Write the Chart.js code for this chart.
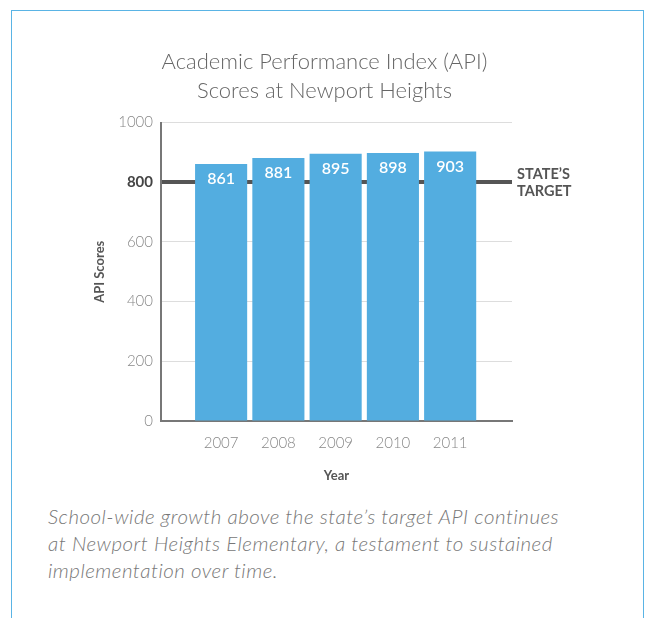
<!DOCTYPE html>
<html>
<head>
<meta charset="utf-8">
<script src="https://cdn.jsdelivr.net/npm/chart.js@4"></script>
<style>
  html, body { margin: 0; padding: 0; background: #fff; width: 649px; height: 618px; overflow: hidden; }
  .frame { position: absolute; left: 11px; top: 10px; width: 633px; height: 700px; border: 1px solid #5ab4e5; box-sizing: border-box; }
  .wrap { position: absolute; left: 0; top: 0; width: 649px; height: 495px; }
  .caption { position: absolute; left: 48px; top: 503px; width: 590px; white-space: nowrap; font-family: Lato, "Open Sans", sans-serif; font-style: italic; font-weight: 300; font-size: 20.5px; letter-spacing: 0.5px; line-height: 27px; color: #777; }
</style>
</head>
<body>
<div class="frame"></div>
<div class="wrap"><canvas id="c"></canvas></div>
<div class="caption">School-wide growth above the state’s target API continues<br>at Newport Heights Elementary, a testament to sustained<br>implementation over time.</div>
<script>
const titleLines = ["Academic Performance Index (API)", "Scores at Newport Heights"];
const years = [2007, 2008, 2009, 2010, 2011];
const scores = [861, 881, 895, 898, 903];
const stateTarget = 800;
const targetLabel = ["STATE’S", "TARGET"];
const yAxisTitle = "API Scores";
const xAxisTitle = "Year";

const barColor = "#53ade0";
const FONT = "Lato, 'Open Sans', sans-serif";

const labelPlugin = {
  id: "labels",
  afterDatasetsDraw(chart) {
    const ctx = chart.ctx;
    const meta = chart.getDatasetMeta(0);
    ctx.save();
    ctx.fillStyle = "#fff";
    ctx.font = "600 16px " + FONT;
    ctx.textAlign = "center";
    ctx.textBaseline = "middle";
    meta.data.forEach((bar, i) => {
      ctx.fillText(String(scores[i]), bar.x, bar.y + 15);
    });
    const yPix = chart.scales.y.getPixelForValue(stateTarget);
    ctx.fillStyle = "#555";
    ctx.font = "bold 14.5px " + FONT;
    ctx.textAlign = "left";
    ctx.fillText(targetLabel[0], chart.chartArea.right + 5, yPix - 8);
    ctx.fillText(targetLabel[1], chart.chartArea.right + 5, yPix + 9);
    ctx.restore();
  }
};

new Chart(document.getElementById("c"), {
  type: "bar",
  data: {
    datasets: [{
      data: years.map((y, i) => ({ x: y, y: scores[i] })),
      backgroundColor: barColor,
      borderWidth: 0,
      categoryPercentage: 1,
      barPercentage: 0.91,
      yAxisID: "y"
    }]
  },
  options: {
    responsive: true,
    maintainAspectRatio: false,
    animation: false,
    devicePixelRatio: 1,
    layout: { padding: 0 },
    plugins: {
      legend: { display: false },
      tooltip: { enabled: false },
      title: {
        display: true,
        text: titleLines,
        color: "#666",
        font: { family: FONT, size: 22, weight: 300, lineHeight: 1.33 },
        padding: { top: 47, bottom: 17 }
      }
    },
    scales: {
      x: {
        type: "linear",
        offset: false,
        min: 2005.95,
        max: 2012.08,
        grid: { display: false, drawTicks: false, offset: false },
        border: { display: true, color: "#777", width: 2 },
        ticks: {
          stepSize: 1,
          autoSkip: false,
          padding: 13,
          color: "#888",
          font: { family: FONT, size: 15, weight: 300 },
          callback: (v) => (years.includes(v) ? String(v) : "")
        },
        title: {
          display: true,
          text: xAxisTitle,
          color: "#555",
          font: { family: FONT, size: 13, weight: "bold" },
          padding: { top: 0, bottom: 11 }
        },
        afterFit: (s) => { s.height = 74; }
      },
      y: {
        position: "left",
        min: 0,
        max: 1000,
        grid: {
          drawTicks: false,
          color: (c) => c.tick && c.tick.value === stateTarget ? "#555" : (c.tick && c.tick.value === 0 ? "rgba(0,0,0,0)" : "#ddd"),
          lineWidth: (c) => c.tick && c.tick.value === stateTarget ? 4 : 1
        },
        border: { display: true, color: "#777", width: 2 },
        ticks: {
          stepSize: 200,
          padding: 8,
          callback: (v) => String(v),
          color: (c) => c.tick && c.tick.value === stateTarget ? "#444" : "#888",
          font: (c) => ({
            family: FONT,
            size: 15,
            weight: c.tick && c.tick.value === stateTarget ? "bold" : 300
          })
        },
        title: {
          display: true,
          text: yAxisTitle,
          color: "#555",
          font: { family: FONT, size: 13, weight: "bold" },
          padding: { top: 92, bottom: 0 }
        },
        afterFit: (s) => { s.width = 161; }
      },
      yRight: {
        position: "right",
        display: true,
        min: 0,
        max: 1000,
        grid: { display: false, drawTicks: false },
        border: { display: false },
        ticks: { display: false },
        afterFit: (s) => { s.width = 137; }
      }
    }
  },
  plugins: [labelPlugin]
});
</script>
</body>
</html>
